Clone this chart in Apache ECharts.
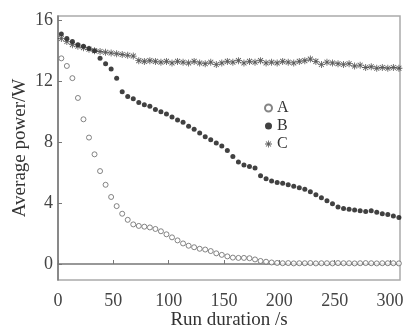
<!DOCTYPE html>
<html>
<head>
<meta charset="utf-8">
<script src="https://cdn.jsdelivr.net/npm/echarts@6/dist/echarts.min.js"></script>
<style>
  html, body { margin: 0; padding: 0; background: #fff; }
  #chart { width: 411px; height: 329px; }
</style>
</head>
<body>
<div id="chart"></div>
<script>
// run time, s
const times = [3, 8, 13, 18, 23, 28, 33, 38, 43, 48, 53, 58, 63, 68, 73, 78, 83, 88, 93, 98,
  103, 108, 113, 118, 123, 128, 133, 138, 143, 148, 153, 158, 163, 168, 173, 178, 183, 188, 193, 198,
  203, 208, 213, 218, 223, 228, 233, 238, 243, 248, 253, 258, 263, 268, 273, 278, 283, 288, 293, 298,
  303, 308];

const seriesA = [13.5, 13.0, 12.2, 10.9, 9.5, 8.3, 7.2, 6.1, 5.2, 4.4, 3.8, 3.3, 2.9, 2.6, 2.5, 2.45, 2.4, 2.3, 2.15, 1.95,
  1.75, 1.55, 1.35, 1.2, 1.1, 1.0, 0.95, 0.85, 0.7, 0.6, 0.5, 0.42, 0.4, 0.4, 0.38, 0.3, 0.2, 0.15, 0.1, 0.07,
  0.05, 0.06, 0.04, 0.05, 0.05, 0.06, 0.04, 0.05, 0.05, 0.04, 0.06, 0.05, 0.05, 0.04, 0.05, 0.06, 0.05, 0.04, 0.05, 0.05,
  0.05, 0.04];

const seriesB = [15.1, 14.8, 14.6, 14.4, 14.3, 14.15, 14.0, 13.5, 13.15, 12.8, 12.2, 11.3, 11.0, 10.85, 10.6, 10.45, 10.35, 10.15, 10.0, 9.85,
  9.65, 9.45, 9.3, 9.05, 8.85, 8.6, 8.35, 8.15, 7.95, 7.75, 7.45, 7.05, 6.7, 6.5, 6.4, 6.3, 5.8, 5.6, 5.45, 5.35,
  5.3, 5.2, 5.1, 5.0, 4.9, 4.75, 4.55, 4.35, 4.15, 3.95, 3.75, 3.65, 3.6, 3.55, 3.5, 3.45, 3.5, 3.4, 3.3, 3.25,
  3.15, 3.05];

const seriesC = [14.8, 14.6, 14.4, 14.3, 14.2, 14.1, 14.0, 13.95, 13.9, 13.85, 13.8, 13.75, 13.7, 13.65, 13.35, 13.3, 13.35, 13.3, 13.25, 13.3,
  13.2, 13.3, 13.25, 13.2, 13.3, 13.2, 13.15, 13.25, 13.1, 13.2, 13.3, 13.25, 13.35, 13.2, 13.3, 13.25, 13.35, 13.2, 13.25, 13.2,
  13.3, 13.25, 13.2, 13.3, 13.35, 13.45, 13.3, 13.1, 13.25, 13.2, 13.15, 13.1, 13.15, 13.0, 13.05, 12.9, 12.95, 12.85, 12.9, 12.85,
  12.9, 12.85];

const xTicks = [0, 50, 100, 150, 200, 250, 300];
const yTicks = [0, 4, 8, 12, 16];

const seriesNames = ['A', 'B', 'C'];

const asterisk = 'path://M-0.6,-5L0.6,-5L0.6,5L-0.6,5Z' +
  'M-5,-0.6L5,-0.6L5,0.6L-5,0.6Z' +
  'M3.12,3.96L-3.96,-3.12L-3.12,-3.96L3.96,3.12Z' +
  'M-3.96,3.12L3.12,-3.96L3.96,-3.12L-3.12,3.96Z';

const pairs = (ys) => times.map((t, i) => [t, ys[i]]);

const font = '"Liberation Serif", "DejaVu Serif", serif';

var myChart = echarts.init(document.getElementById('chart'));

myChart.setOption({
  animation: false,
  textStyle: { fontFamily: font, color: '#333' },
  grid: {
    left: 58,
    right: 11,
    top: 16,
    bottom: 49,
    containLabel: false,
    outerBoundsMode: 'none',
    show: true,
    borderColor: '#aaa',
    borderWidth: 1.5
  },
  legend: {
    orient: 'vertical',
    left: 259,
    top: 95,
    itemWidth: 7,
    itemHeight: 7,
    itemGap: 2,
    data: seriesNames,
    textStyle: { fontFamily: font, fontSize: 16, color: '#333' }
  },
  xAxis: {
    type: 'value',
    min: 0,
    max: 309,
    name: 'Run duration /s',
    nameLocation: 'middle',
    nameGap: 31,
    nameMoveOverlap: false,
    nameTextStyle: { fontFamily: font, fontSize: 19, color: '#333' },
    splitLine: { show: false },
    axisLine: { show: true, lineStyle: { color: '#777', width: 1.5 } },
    axisTick: { show: true, inside: true, length: 4, customValues: xTicks, lineStyle: { color: '#777' } },
    axisLabel: { customValues: xTicks, margin: 12, fontSize: 18, fontFamily: font, color: '#444' }
  },
  yAxis: {
    type: 'value',
    min: -1.05,
    max: 16.28,
    name: 'Average power/W',
    nameLocation: 'middle',
    nameGap: 28,
    nameMoveOverlap: false,
    nameTextStyle: { fontFamily: font, fontSize: 19, color: '#333' },
    splitLine: { show: false },
    axisLine: { show: true, lineStyle: { color: '#777', width: 1.5 } },
    axisTick: { show: true, inside: true, length: 4, customValues: yTicks, lineStyle: { color: '#777' } },
    axisLabel: { customValues: yTicks, margin: 5, fontSize: 18, fontFamily: font, color: '#444' }
  },
  series: [
    {
      name: 'A',
      type: 'scatter',
      symbol: 'circle',
      symbolSize: 5,
      itemStyle: { color: '#fff', borderColor: '#666', borderWidth: 1 },
      data: pairs(seriesA)
    },
    {
      name: 'B',
      type: 'scatter',
      symbol: 'circle',
      symbolSize: 5,
      itemStyle: { color: '#111' },
      data: pairs(seriesB)
    },
    {
      name: 'C',
      type: 'scatter',
      symbol: asterisk,
      symbolSize: 7,
      itemStyle: { color: '#333' },
      data: pairs(seriesC)
    }
  ]
});
</script>
</body>
</html>
